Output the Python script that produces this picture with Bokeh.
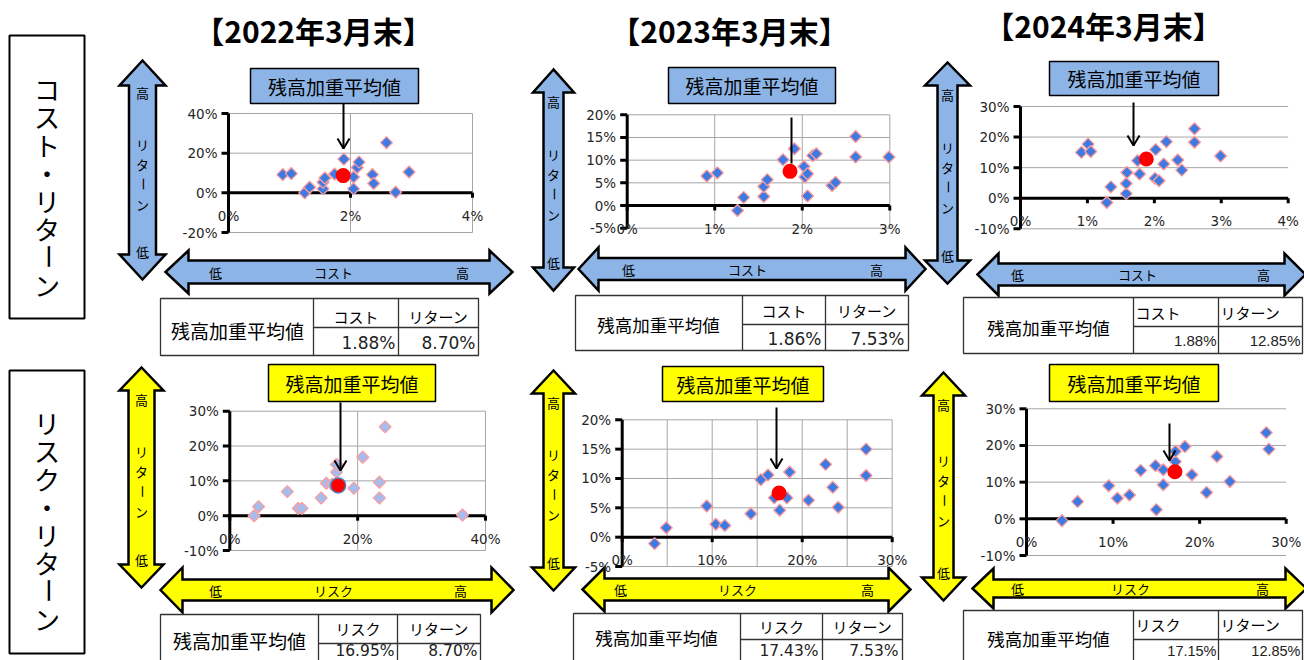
import math
from bokeh.plotting import figure
from bokeh.models import Range1d
from bokeh.core.properties import value
from bokeh.embed import file_html
from bokeh.resources import INLINE

# ---------------- data (percent) ----------------
titles = ["【2022年3月末】", "【2023年3月末】", "【2024年3月末】"]

# cost vs. return, per fund
cost_2022 = [0.89, 1.03, 1.25, 1.33, 1.55, 1.55, 1.58, 1.74, 1.89, 2.05, 2.05, 2.11, 2.14, 2.36, 2.38, 2.59, 2.74, 2.96]
cost_ret_2022 = [9.2, 9.7, 0.0, 2.8, 2.0, 5.3, 7.5, 9.5, 17.0, 8.0, 2.0, 12.8, 15.5, 9.2, 4.7, 25.3, 0.3, 10.5]
cost_2023 = [0.91, 1.03, 1.26, 1.33, 1.56, 1.56, 1.60, 1.78, 1.91, 2.02, 2.03, 2.06, 2.06, 2.12, 2.16, 2.34, 2.38, 2.61, 2.61, 2.99]
cost_ret_2023 = [6.5, 7.2, -1.1, 1.8, 2.0, 4.2, 5.7, 10.1, 12.5, 8.6, 6.3, 7.0, 2.1, 11.0, 11.4, 4.4, 5.1, 15.2, 10.7, 10.7]
cost_2024 = [0.91, 1.01, 1.05, 1.29, 1.35, 1.58, 1.58, 1.59, 1.75, 1.78, 2.02, 2.01, 2.07, 2.14, 2.18, 2.35, 2.41, 2.60, 2.60, 2.99]
cost_ret_2024 = [15.0, 17.7, 15.3, -1.4, 3.7, 1.5, 4.8, 8.4, 12.3, 7.9, 15.9, 6.5, 5.7, 11.2, 18.5, 12.5, 9.2, 22.7, 18.3, 13.8]

# risk vs. return, per fund
risk_2022 = [3.8, 4.5, 9.0, 10.7, 11.3, 14.3, 15.1, 16.0, 16.7, 16.7, 19.4, 20.8, 23.4, 23.4, 24.3, 36.4]
risk_ret_2022 = [0.0, 2.6, 6.9, 2.1, 2.1, 5.1, 9.3, 9.0, 12.5, 14.7, 7.9, 16.8, 9.6, 5.1, 25.5, 0.2]
risk_2023 = [3.6, 4.9, 9.4, 10.4, 11.4, 14.3, 15.4, 16.2, 16.9, 17.5, 18.3, 18.6, 20.7, 22.6, 23.4, 24.0, 27.1, 27.1]
risk_ret_2023 = [-1.1, 1.6, 5.3, 2.2, 2.0, 4.0, 9.8, 10.6, 6.7, 4.6, 6.7, 11.1, 6.3, 12.4, 8.5, 5.1, 15.0, 10.5]
risk_2024 = [4.1, 5.9, 9.5, 10.5, 11.9, 13.2, 14.9, 15.0, 15.8, 15.8, 17.2, 17.2, 18.3, 19.1, 20.8, 22.0, 23.5, 27.7, 28.0]
risk_ret_2024 = [-0.5, 4.7, 9.0, 5.6, 6.5, 13.2, 14.5, 2.5, 9.3, 13.4, 15.6, 18.4, 19.7, 12.0, 7.2, 17.0, 10.2, 23.5, 19.0]

# balance-weighted averages
avg_cost = [1.88, 1.86, 1.88]
avg_risk = [16.95, 17.43, 17.15]
avg_ret = [8.70, 7.53, 12.85]

cost_xticks = [[0, 2, 4], [0, 1, 2, 3], [0, 1, 2, 3, 4]]
cost_yticks = [[-20, 0, 20, 40], [-5, 0, 5, 10, 15, 20], [-10, 0, 10, 20, 30]]
risk_xticks = [[0, 20, 40], [0, 10, 20, 30], [0, 10, 20, 30]]
risk_yticks = [[-10, 0, 10, 20, 30], [-5, 0, 5, 10, 15, 20], [-10, 0, 10, 20, 30]]

row_labels = ["コスト・リターン", "リスク・リターン"]
avg_label = "残高加重平均値"

# ---------------- canvas ----------------
W, H = 1304, 660
JP = value("Noto Sans CJK JP")
NUM = value("DejaVu Sans")
NARROW = value("Liberation Sans")

p = figure(width=W, height=H, x_range=Range1d(0, W), y_range=Range1d(H, 0),
           output_backend="svg", toolbar_location=None,
           x_axis_location=None, y_axis_location=None, min_border=0)
p.grid.visible = False
p.outline_line_color = None
p.background_fill_color = "white"
p.border_fill_color = "white"

BLUE = "#8DB4E6"
YELLOW = "#FFFF00"
GRID = "#A6A6A6"


def txt(x, y, s, size, align="center", bold=False, color="black", angle=0.0, font=JP):
    p.text(x=[x], y=[y], text=[s], text_font=font, text_font_size=f"{size}px",
           text_align=align, text_baseline="middle",
           text_font_style="bold" if bold else "normal", text_color=color, angle=angle)


def vtext(xc, s, y0, step, size):
    for k, ch in enumerate(s):
        txt(xc, y0 + k * step, ch, size, angle=(math.pi / 2 if ch == "ー" else 0.0))


def harrow(x0, x1, yc, hs, hh, hl, fill):
    xs = [x0, x0 + hl, x0 + hl, x1 - hl, x1 - hl, x1, x1 - hl, x1 - hl, x0 + hl, x0 + hl]
    ys = [yc, yc - hh, yc - hs, yc - hs, yc - hh, yc, yc + hh, yc + hs, yc + hs, yc + hh]
    p.patch(xs, ys, fill_color=fill, line_color="black", line_width=2.5, line_join="miter")


def varrow(xc, y0, y1, hs, hh, hl, fill):
    ys = [y0, y0 + hl, y0 + hl, y1 - hl, y1 - hl, y1, y1 - hl, y1 - hl, y0 + hl, y0 + hl]
    xs = [xc, xc - hh, xc - hs, xc - hs, xc - hh, xc, xc + hh, xc + hs, xc + hs, xc + hh]
    p.patch(xs, ys, fill_color=fill, line_color="black", line_width=2.5, line_join="miter")


def pointer(x, y0, y1, head):
    p.line([x, x], [y0, y1], line_color="black", line_width=2)
    if head:
        p.line([x - 6, x, x + 6], [y1 - 10, y1, y1 - 10], line_color="black", line_width=2)


def table(t, hdrs, vals):
    x0, x1, y0, y1, c1, c2, r = t["box"]
    p.quad(left=[x0], right=[x1], top=[y0], bottom=[y1], fill_color="white",
           line_color="#333333", line_width=1.3)
    p.segment(x0=[c1, c2, c1], y0=[y0, y0, r], x1=[c1, c2, x1], y1=[y1, y1, r],
              line_color="#333333", line_width=1.3)
    txt(t["lab"][0], t["lab"][1], avg_label, t["lab_size"])
    if t["hdr_align"] == "center":
        hx = [(c1 + c2) / 2, (c2 + x1) / 2]
    else:
        hx = [c1 + 2, c2 + 2]
    for xh, h in zip(hx, hdrs):
        txt(xh, t["hdr_y"], h, 15, align=t["hdr_align"])
    for xv, v in zip([c2 - t["pad"], x1 - t["pad"]], vals):
        txt(xv, t["val_y"], v, t["val_size"], align="right", font=t["val_font"], color="#222222")


def scatter_panel(frame, xticks, yticks, vgrid, hgrid, xs, ys, mx, my, fill, dot_edge):
    px0, px1, pyt, pyb = frame
    xr = (xticks[0], xticks[-1])
    yr = (yticks[0], yticks[-1])
    sub = p.subplot(x_source=Range1d(*xr), y_source=Range1d(*yr),
                    x_target=Range1d(px0, px1), y_target=Range1d(pyb, pyt))
    kx = (px1 - px0) / (xr[1] - xr[0])
    ky = (pyb - pyt) / (yr[1] - yr[0])
    if hgrid:
        sub.segment(x0=[xr[0]] * len(hgrid), y0=hgrid, x1=[xr[1]] * len(hgrid), y1=hgrid,
                    line_color=GRID, line_width=1)
    if vgrid:
        sub.segment(x0=vgrid, y0=[yr[0]] * len(vgrid), x1=vgrid, y1=[yr[1]] * len(vgrid),
                    line_color=GRID, line_width=1)
    # axes crossing at zero
    sub.segment(x0=[xr[0], 0], y0=[0, yr[0]], x1=[xr[1], 0], y1=[0, yr[1]],
                line_color="black", line_width=3)
    sub.segment(x0=[-7 / kx] * len(yticks), y0=yticks, x1=[0] * len(yticks), y1=yticks,
                line_color="black", line_width=3)
    sub.segment(x0=xticks, y0=[0] * len(xticks), x1=xticks, y1=[-5 / ky] * len(xticks),
                line_color="black", line_width=3)
    sub.text(x=[-11 / kx] * len(yticks), y=yticks, text=[f"{t}%" for t in yticks],
             text_font=NUM, text_font_size="13.5px", text_align="right", text_baseline="middle",
             text_color="#262626")
    sub.text(x=xticks, y=[-23 / ky] * len(xticks), text=[f"{t}%" for t in xticks],
             text_font=NUM, text_font_size="13.5px", text_align="center", text_baseline="middle",
             text_color="#262626")
    sub.scatter(xs, ys, marker="square", angle=math.pi / 4, size=8.5,
                fill_color=fill, line_color="#FF9C9C", line_width=1.3)
    sub.scatter([mx], [my], marker="circle", size=15, fill_color="#FF0000",
                line_color=dot_edge, line_width=1.5 if dot_edge else 0)


# ---------------- layout of the six panels ----------------
top = [
    dict(frame=(228, 472, 113, 232), vgrid=[2, 4], hgrid=[-20, 20, 40],
         varrow=(142, 60, 279, 13.5, 23, 25), harrow=(165, 512, 271.5, 11.5, 21.5, 23),
         hlab=(215, 333, 462), box=(250, 418, 68, 103), ptr=(343, 103, 148, True),
         tab=dict(box=(160, 478, 298, 355, 313, 398, 327), lab=(237, 330), lab_size=19,
                  hdr_align="center", hdr_y=316, val_y=342, val_size=17, pad=3, val_font=NUM)),
    dict(frame=(626.7, 889.3, 114.3, 227.7), vgrid=[1, 2, 3], hgrid=[-5, 5, 10, 15, 20],
         varrow=(553, 69, 290, 10, 20.5, 23), harrow=(578, 925, 268.5, 11, 21.5, 20),
         hlab=(628, 747, 876), box=(668, 835, 67, 103), ptr=(791, 117, 163, False),
         tab=dict(box=(575, 908, 295, 350, 742, 825, 324), lab=(658, 324), lab_size=17.5,
                  hdr_align="center", hdr_y=310, val_y=338, val_size=17, pad=4, val_font=NUM)),
    dict(frame=(1020, 1287.7, 106, 228.3), vgrid=[], hgrid=[-10, 10, 20, 30],
         varrow=(947, 62, 283, 10, 22.5, 23), harrow=(977, 1305, 274, 11, 21, 21),
         hlab=(1017, 1137, 1263), box=(1049, 1218, 61, 95), ptr=(1133, 102, 145, True),
         tab=dict(box=(963, 1302, 297, 353, 1133, 1218, 326), lab=(1048, 327), lab_size=17.5,
                  hdr_align="left", hdr_y=312, val_y=340, val_size=15, pad=2, val_font=NARROW)),
]
bottom = [
    dict(frame=(229.3, 485, 410.7, 550), vgrid=[20, 40], hgrid=[-10, 10, 20, 30],
         varrow=(141, 367, 587, 13, 22, 23), harrow=(160, 513, 589.5, 10.5, 22.5, 22),
         hlab=(215, 333, 460), box=(268, 435, 364, 401), ptr=(340, 402, 470, True),
         tab=dict(box=(160, 480, 614, 672, 318, 397, 643), lab=(239, 640), lab_size=19,
                  hdr_align="center", hdr_y=628, val_y=650, val_size=15.5, pad=3, val_font=NUM)),
    dict(frame=(621.7, 891.7, 419.3, 566), vgrid=[5, 10, 15, 20, 25, 30], hgrid=[-5, 5, 10, 15, 20],
         varrow=(553, 370, 590, 10, 21.5, 23), harrow=(582, 910, 589, 11, 22, 22),
         hlab=(620, 737, 867), box=(662, 823, 366, 401), ptr=(776, 407, 468, True),
         tab=dict(box=(573, 902, 613, 672, 740, 822, 639), lab=(656, 637), lab_size=17.5,
                  hdr_align="center", hdr_y=626, val_y=650, val_size=15.5, pad=4, val_font=NUM)),
    dict(frame=(1026, 1285.7, 408.3, 555), vgrid=[], hgrid=[-10, 10, 20, 30],
         varrow=(943, 372, 600, 10, 21.5, 23), harrow=(972, 1306, 588, 9, 20, 21),
         hlab=(1017, 1130, 1262), box=(1049, 1218, 364, 401), ptr=(1169, 423, 460, True),
         tab=dict(box=(963, 1302, 610, 672, 1133, 1218, 639), lab=(1048, 638), lab_size=17.5,
                  hdr_align="left", hdr_y=624, val_y=650, val_size=14.5, pad=2, val_font=NARROW)),
]

title_pos = [(313, 29), (729, 29), (1103, 24)]
for (tx, ty), t in zip(title_pos, titles):
    txt(tx, ty, t, 30, bold=True)

# row captions in framed boxes
for (y0, y1, cy0), lab in zip([(35, 318, 88), (370, 653, 422)], row_labels):
    p.quad(left=[9], right=[84], top=[y0], bottom=[y1], fill_color="white",
           line_color="black", line_width=2)
    vtext(46.5, lab, cy0, 28, 26)

cost_x = [cost_2022, cost_2023, cost_2024]
cost_y = [cost_ret_2022, cost_ret_2023, cost_ret_2024]
risk_x = [risk_2022, risk_2023, risk_2024]
risk_y = [risk_ret_2022, risk_ret_2023, risk_ret_2024]

for row, specs in enumerate([top, bottom]):
    fill = BLUE if row == 0 else YELLOW
    xname = "コスト" if row == 0 else "リスク"
    for i, s in enumerate(specs):
        # vertical "return" arrow
        xc, vy0, vy1, hs, hh, hl = s["varrow"]
        varrow(xc, vy0, vy1, hs, hh, hl, fill)
        mid = (vy0 + vy1) / 2
        txt(xc, vy0 + 32, "高", 13)
        vtext(xc, "リターン", mid - 26, 20, 13)
        txt(xc, vy1 - 28, "低", 13)
        # horizontal cost / risk arrow
        hx0, hx1, yc, hs, hh, hl = s["harrow"]
        harrow(hx0, hx1, yc, hs, hh, hl, fill)
        lx, cx, rx = s["hlab"]
        txt(lx, yc, "低", 13)
        txt(cx, yc, xname, 13)
        txt(rx, yc, "高", 13)
        # scatter
        if row == 0:
            scatter_panel(s["frame"], cost_xticks[i], cost_yticks[i], s["vgrid"], s["hgrid"],
                          cost_x[i], cost_y[i], avg_cost[i], avg_ret[i], "#3D7BE3", None)
        else:
            scatter_panel(s["frame"], risk_xticks[i], risk_yticks[i], s["vgrid"], s["hgrid"],
                          risk_x[i], risk_y[i], avg_risk[i], avg_ret[i],
                          "#A3BDEF" if i == 0 else "#3D7BE3", "#4F81BD" if i == 0 else None)
        # average label box and pointer
        bx0, bx1, by0, by1 = s["box"]
        p.quad(left=[bx0], right=[bx1], top=[by0], bottom=[by1], fill_color=fill,
               line_color="black", line_width=1.5)
        txt((bx0 + bx1) / 2, (by0 + by1) / 2, avg_label, 19)
        pointer(*s["ptr"])
        # summary table
        xv = avg_cost[i] if row == 0 else avg_risk[i]
        table(s["tab"], [xname, "リターン"], [f"{xv:.2f}%", f"{avg_ret[i]:.2f}%"])

open("out.html", "w").write(file_html(p, INLINE))
